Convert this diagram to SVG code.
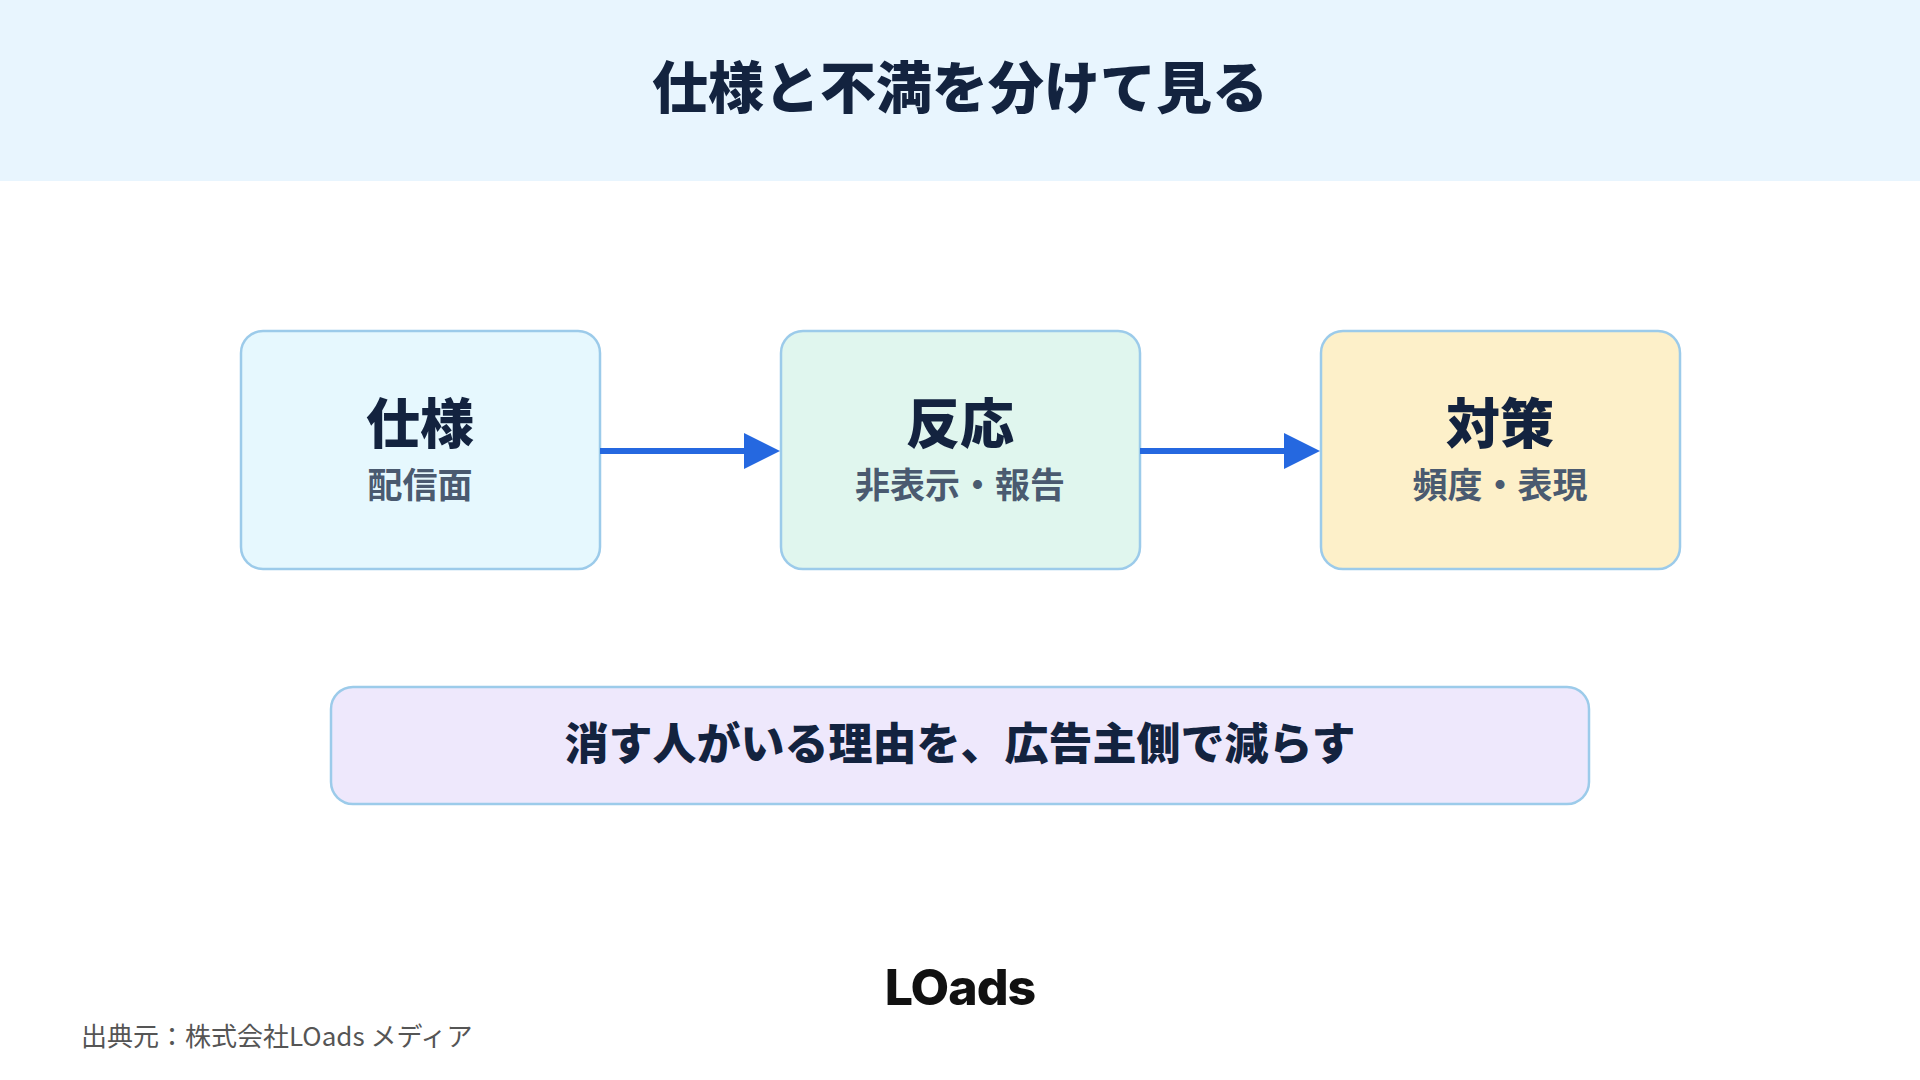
<svg xmlns="http://www.w3.org/2000/svg" width="1920" height="1080" viewBox="0 0 1920 1080">
<style>
text{font-family:"Noto Sans CJK JP","Noto Sans",sans-serif;text-anchor:middle}
.box{stroke:#9CCBEA;stroke-width:2.5}
.t{font-size:54px;font-weight:900;fill:#13233F}
.s{font-size:35px;font-weight:700;fill:#4A5A70}
.c{stroke:#2568E0;stroke-width:6;fill:none}
</style>
<defs><marker id="a" markerWidth="6" markerHeight="6" refX="0.5" refY="3" orient="auto" markerUnits="strokeWidth"><path d="M0,0L6,3L0,6z" fill="#2568E0"/></marker></defs>
<rect width="1920" height="1080" fill="#fff"/>
<rect width="1920" height="181" fill="#E8F5FE"/>
<text x="960" y="108" font-size="56" font-weight="900" fill="#13233F">仕様と不満を分けて見る</text>
<g id="n1"><rect class="box" x="241" y="331" width="359" height="238" rx="22" fill="#E6F8FE"/><text class="t" x="420" y="444">仕様</text><text class="s" x="420" y="498">配信面</text></g>
<g id="n2"><rect class="box" x="781" y="331" width="359" height="238" rx="22" fill="#E0F6EE"/><text class="t" x="960" y="444">反応</text><text class="s" x="960" y="498">非表示・報告</text></g>
<g id="n3"><rect class="box" x="1321" y="331" width="359" height="238" rx="22" fill="#FDF0C9"/><text class="t" x="1500" y="444">対策</text><text class="s" x="1500" y="498">頻度・表現</text></g>
<g id="connectors"><path class="c" d="M600,451H747" marker-end="url(#a)"/><path class="c" d="M1140,451H1287" marker-end="url(#a)"/></g>
<g id="n4"><rect class="box" x="331" y="687" width="1258" height="117" rx="22" fill="#EEE8FC"/><text x="960" y="760" font-size="44" font-weight="900" fill="#13233F">消す人がいる理由を、広告主側で減らす</text></g>
<text x="960" y="1005" style="font-family:Inter,sans-serif;font-size:50px;font-weight:800;letter-spacing:-1px" fill="#111">LOads</text>
<text x="81" y="1046" font-size="26" fill="#555" style="text-anchor:start">出典元：株式会社LOads メディア</text>
</svg>
